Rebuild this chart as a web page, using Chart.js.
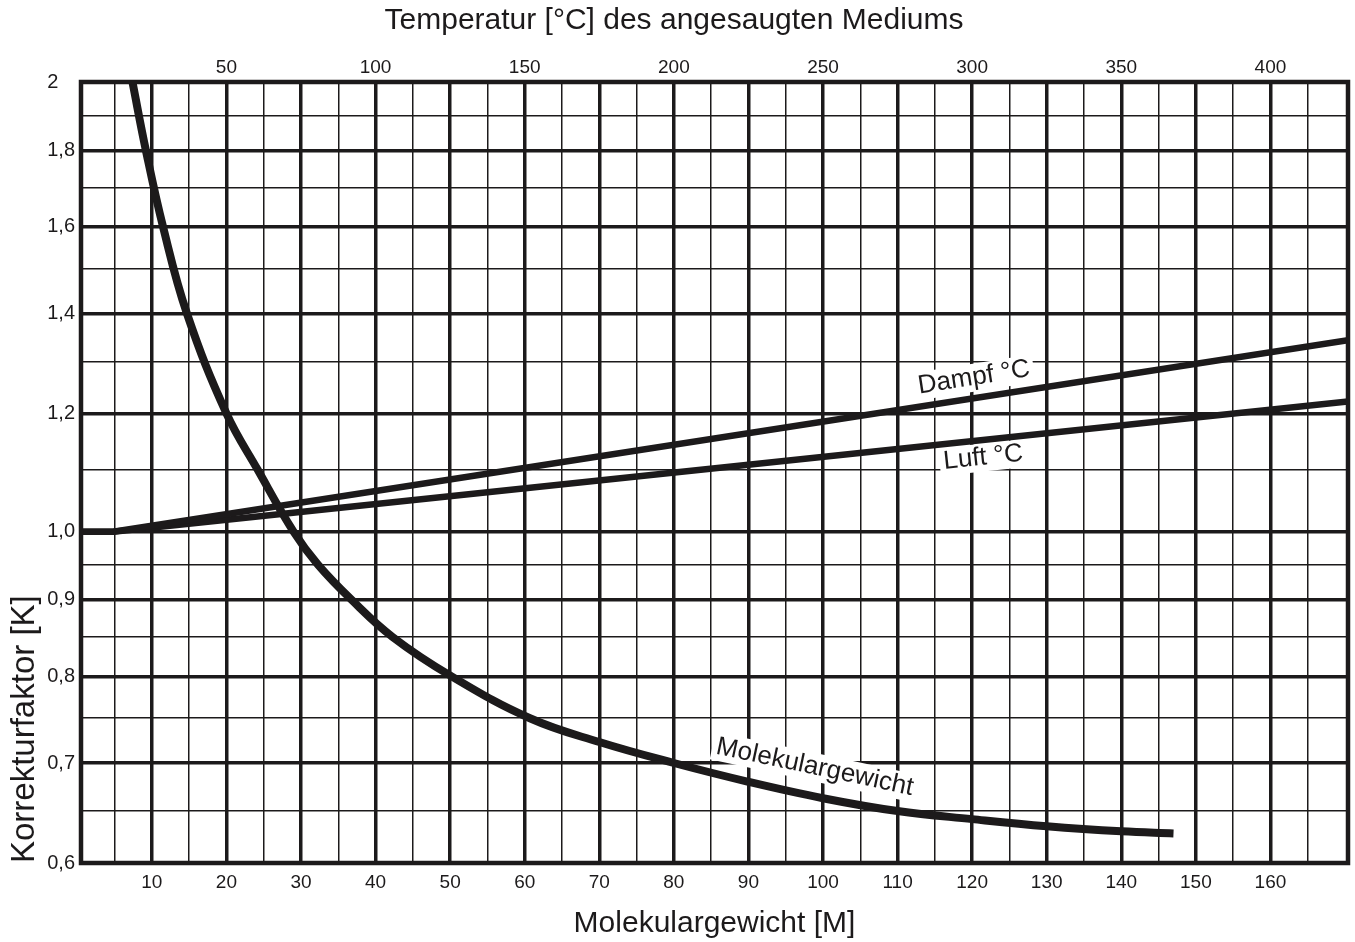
<!DOCTYPE html>
<html>
<head>
<meta charset="utf-8">
<script src="https://cdn.jsdelivr.net/npm/chart.js@4"></script>
<style>
  html, body { margin: 0; padding: 0; background: #fff; }
  #wrap { width: 1355px; height: 942px; position: relative; }
</style>
</head>
<body>
<div id="wrap"><canvas id="chartK"></canvas></div>
<script>
// Molekulargewicht [M] -> Korrekturfaktor [K]
var molM = [7.4, 9.2, 11.5, 14.7, 20.0, 24.2, 29.0, 32.3, 36.8, 42.3, 50.2, 60.7, 70, 80, 90, 100, 110, 120, 130, 140, 147];
var molK = [2.0, 1.8, 1.6, 1.4, 1.2, 1.1, 1.0, 0.95, 0.9, 0.85, 0.8, 0.75, 0.723, 0.70, 0.68, 0.663, 0.65, 0.642, 0.635, 0.630, 0.628];

// Temperatur [°C] -> K for Dampf and Luft
var tempC = [1.25, 12, 426];
var dampfK = [1.0, 1.0, 1.343];
var luftK = [1.0, 1.0, 1.222];

// axes
var xMajor = [10, 20, 30, 40, 50, 60, 70, 80, 90, 100, 110, 120, 130, 140, 150, 160];
var xMinor = [5, 15, 25, 35, 45, 55, 65, 75, 85, 95, 105, 115, 125, 135, 145, 155, 165];
var tempTicks = [50, 100, 150, 200, 250, 300, 350, 400];
var yMajor = [0.6, 0.7, 0.8, 0.9, 1.0, 1.2, 1.4, 1.6, 1.8, 2];
var yLabels = ["0,6", "0,7", "0,8", "0,9", "1,0", "1,2", "1,4", "1,6", "1,8", "2   "];
var yMinor = [0.65, 0.75, 0.85, 0.95, 1.1, 1.3, 1.5, 1.7, 1.9];

// curve captions: [text, x value, K value, angle deg, axis]
var captions = [
  ["Dampf °C", 300.6, 1.268, -8.9, "x2"],
  ["Luft °C", 303.7, 1.121, -6.1, "x2"],
  ["Molekulargewicht", 98.9, 0.6954, 12, "x"]
];

var ink = "#1c1a1b";
var fontFam = "'Liberation Sans', Arial, sans-serif";

function has(list, v) {
  for (var i = 0; i < list.length; i++) {
    if (Math.abs(list[i] - v) < 1e-6) return i;
  }
  return -1;
}

function pts(xs, ys) {
  return xs.map(function (x, i) { return { x: x, y: ys[i] }; });
}

var frame = {
  id: "frame",
  beforeDatasetsDraw: function (chart) {
    var ctx = chart.ctx;
    captions.forEach(function (c) {
      var px = chart.scales[c[4]].getPixelForValue(c[1]);
      var py = chart.scales.y.getPixelForValue(c[2]);
      ctx.save();
      ctx.translate(px, py);
      ctx.rotate(c[3] * Math.PI / 180);
      ctx.font = "26px " + fontFam;
      var w = ctx.measureText(c[0]).width;
      ctx.fillStyle = "#fff";
      ctx.fillRect(-w / 2 - 4, -14, w + 8, 28);
      ctx.fillStyle = ink;
      ctx.textAlign = "center";
      ctx.textBaseline = "middle";
      ctx.fillText(c[0], 0, 0);
      ctx.restore();
    });
  },
  afterDatasetsDraw: function (chart) {
    var a = chart.chartArea;
    var ctx = chart.ctx;
    ctx.save();
    ctx.strokeStyle = ink;
    ctx.lineWidth = 4.5;
    ctx.strokeRect(a.left, a.top, a.right - a.left, a.bottom - a.top);
    ctx.restore();
  }
};

var ctx = document.getElementById("chartK").getContext("2d");

new Chart(ctx, {
  type: "line",
  data: {
    datasets: [
      {
        label: "Molekulargewicht",
        data: pts(molM, molK),
        xAxisID: "x",
        yAxisID: "y",
        borderColor: ink,
        borderWidth: 8,
        pointRadius: 0,
        tension: 0.4
      },
      {
        label: "Dampf °C",
        data: pts(tempC, dampfK),
        xAxisID: "x2",
        yAxisID: "y",
        borderColor: ink,
        borderWidth: 6.5,
        pointRadius: 0
      },
      {
        label: "Luft °C",
        data: pts(tempC, luftK),
        xAxisID: "x2",
        yAxisID: "y",
        borderColor: ink,
        borderWidth: 6.5,
        pointRadius: 0
      }
    ]
  },
  options: {
    responsive: true,
    maintainAspectRatio: false,
    animation: false,
    layout: { padding: { left: 0, right: 7, top: 0, bottom: 0 } },
    plugins: {
      legend: { display: false },
      tooltip: { enabled: false },
      title: {
        display: true,
        text: "Temperatur [°C] des angesaugten Mediums",
        color: ink,
        font: { family: fontFam, size: 30, weight: "normal" },
        padding: { top: 3, bottom: 0 }
      }
    },
    scales: {
      x: {
        type: "linear",
        position: "bottom",
        min: 0.5,
        max: 170.4,
        afterBuildTicks: function (s) {
          s.ticks = xMinor.concat(xMajor).sort(function (a, b) { return a - b; })
            .map(function (v) { return { value: v }; });
        },
        afterFit: function (s) { s.height = 79; },
        grid: {
          drawTicks: false,
          color: ink,
          lineWidth: function (c) {
            return c.tick && has(xMajor, c.tick.value) >= 0 ? 3.5 : 1.5;
          }
        },
        border: { display: false },
        ticks: {
          autoSkip: false,
          maxRotation: 0,
          padding: 8,
          color: ink,
          font: { family: fontFam, size: 19 },
          callback: function (v) { return has(xMajor, v) >= 0 ? String(v) : ""; }
        },
        title: {
          display: true,
          text: "Molekulargewicht [M]",
          color: ink,
          font: { family: fontFam, size: 30 },
          padding: { top: 0, bottom: 0 }
        }
      },
      x2: {
        type: "linear",
        position: "top",
        min: 1.25,
        max: 426,
        afterBuildTicks: function (s) {
          s.ticks = tempTicks.map(function (v) { return { value: v }; });
        },
        afterFit: function (s) { s.height = 43; },
        grid: { display: false, drawTicks: false },
        border: { display: false },
        ticks: {
          autoSkip: false,
          maxRotation: 0,
          padding: 3,
          color: ink,
          font: { family: fontFam, size: 19 }
        }
      },
      y: {
        type: "logarithmic",
        position: "left",
        min: 0.6,
        max: 2,
        afterBuildTicks: function (s) {
          s.ticks = yMinor.concat(yMajor).sort(function (a, b) { return a - b; })
            .map(function (v) { return { value: v }; });
        },
        afterFit: function (s) { s.width = 81; },
        grid: {
          drawTicks: false,
          color: ink,
          lineWidth: function (c) {
            return c.tick && has(yMajor, c.tick.value) >= 0 ? 3.5 : 1.5;
          }
        },
        border: { display: false },
        ticks: {
          autoSkip: false,
          padding: 6,
          color: ink,
          font: { family: fontFam, size: 20 },
          callback: function (v) {
            var i = has(yMajor, v);
            return i >= 0 ? yLabels[i] : "";
          }
        },
        title: {
          display: true,
          text: "Korrekturfaktor [K]",
          align: "start",
          color: ink,
          font: { family: fontFam, size: 33 },
          padding: { top: 5, bottom: 0 }
        }
      }
    }
  },
  plugins: [frame]
});
</script>
</body>
</html>
